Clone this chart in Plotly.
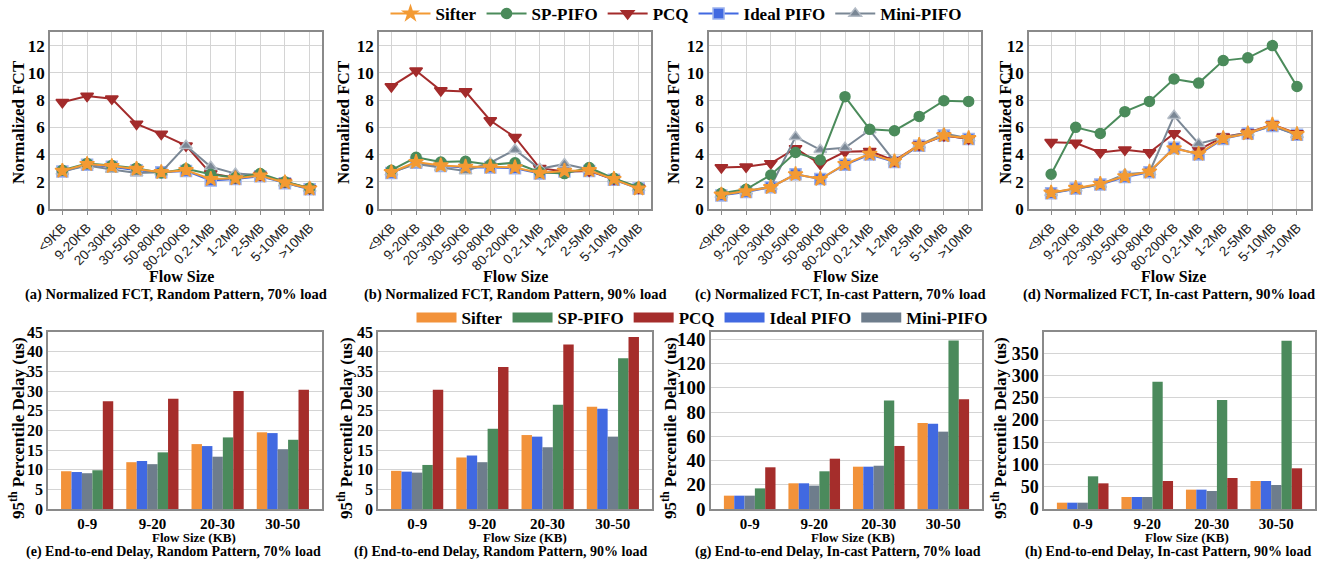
import plotly.graph_objects as go

W, H = 1328, 561

fct_cats = ["<9KB", "9-20KB", "20-30KB", "30-50KB", "50-80KB", "80-200KB",
            "0.2-1MB", "1-2MB", "2-5MB", "5-10MB", ">10MB"]
bar_cats = ["0-9", "9-20", "20-30", "30-50"]

# (a) Normalized FCT, Random, 70%
a_sifter = [2.8, 3.3, 3.15, 2.95, 2.7, 2.85, 2.2, 2.25, 2.45, 1.95, 1.5]
a_sp     = [2.85, 3.35, 3.2, 3.0, 2.65, 2.95, 2.55, 2.3, 2.6, 2.0, 1.55]
a_pcq    = [7.84, 8.3, 8.1, 6.25, 5.5, 4.65, 2.6, 2.3, 2.5, 2.0, 1.5]
a_ideal  = [2.75, 3.25, 3.1, 2.85, 2.7, 2.8, 2.1, 2.2, 2.4, 1.9, 1.45]
a_mini   = [2.75, 3.2, 2.9, 2.65, 2.7, 4.65, 3.1, 2.6, 2.5, 1.9, 1.5]
# (b) Normalized FCT, Random, 90%
b_sifter = [2.7, 3.45, 3.2, 3.1, 3.1, 3.05, 2.65, 2.8, 2.85, 2.2, 1.5]
b_sp     = [2.85, 3.8, 3.45, 3.5, 3.25, 3.4, 2.7, 2.6, 3.05, 2.25, 1.6]
b_pcq    = [9.0, 10.15, 8.7, 8.63, 6.5, 5.27, 3.0, 2.75, 2.8, 2.2, 1.55]
b_ideal  = [2.65, 3.4, 3.15, 3.05, 3.05, 3.0, 2.6, 2.75, 2.8, 2.15, 1.5]
b_mini   = [2.7, 3.3, 3.05, 2.8, 3.4, 4.35, 2.95, 3.3, 2.9, 2.2, 1.55]
# (c) Normalized FCT, In-cast, 70%
c_sifter = [1.05, 1.3, 1.6, 2.55, 2.2, 3.3, 4.05, 3.5, 4.7, 5.4, 5.2]
c_sp     = [1.15, 1.45, 2.5, 4.15, 3.6, 8.25, 5.85, 5.75, 6.8, 7.95, 7.9]
c_pcq    = [3.05, 3.1, 3.35, 4.45, 3.3, 4.2, 4.25, 3.55, 4.7, 5.4, 5.15]
c_ideal  = [1.0, 1.25, 1.6, 2.55, 2.2, 3.25, 4.0, 3.45, 4.65, 5.4, 5.15]
c_mini   = [1.05, 1.3, 1.65, 5.3, 4.35, 4.5, 5.8, 3.5, 4.7, 5.55, 5.2]
# (d) Normalized FCT, In-cast, 90%
d_sifter = [1.2, 1.55, 1.85, 2.4, 2.75, 4.45, 4.05, 5.2, 5.55, 6.2, 5.5]
d_sp     = [2.55, 6.0, 5.55, 7.15, 7.9, 9.55, 9.25, 10.9, 11.1, 12.0, 9.0]
d_pcq    = [4.9, 4.85, 4.15, 4.35, 4.15, 5.55, 4.35, 5.3, 5.6, 6.2, 5.55]
d_ideal  = [1.15, 1.5, 1.8, 2.35, 2.7, 4.5, 4.0, 5.15, 5.55, 6.1, 5.45]
d_mini   = [1.2, 1.5, 1.8, 2.55, 2.7, 6.85, 4.8, 5.25, 5.6, 6.1, 5.45]

# (e) Delay, Random, 70%
e_sifter = [9.6, 11.9, 16.5, 19.5]
e_ideal  = [9.4, 12.2, 16.0, 19.3]
e_mini   = [9.1, 11.4, 13.3, 15.2]
e_sp     = [9.85, 14.4, 18.2, 17.6]
e_pcq    = [27.4, 28.0, 30.0, 30.3]
# (f) Delay, Random, 90%
f_sifter = [9.7, 13.1, 18.8, 26.0]
f_ideal  = [9.5, 13.6, 18.4, 25.5]
f_mini   = [9.25, 11.9, 15.7, 18.4]
f_sp     = [11.2, 20.4, 26.5, 38.3]
f_pcq    = [30.3, 36.1, 41.8, 43.7]
# (g) Delay, In-cast, 70%
g_sifter = [11.0, 21.2, 34.9, 71.0]
g_ideal  = [11.0, 21.2, 34.9, 70.4]
g_mini   = [11.0, 19.3, 35.7, 63.8]
g_sp     = [17.0, 31.1, 89.4, 138.9]
g_pcq    = [34.4, 41.5, 52.0, 90.5]
# (h) Delay, In-cast, 90%
h_sifter = [14.2, 27.0, 43.5, 63.0]
h_ideal  = [14.2, 27.0, 43.5, 63.0]
h_mini   = [14.2, 27.0, 40.5, 54.0]
h_sp     = [73.5, 286.0, 245.0, 378.5]
h_pcq    = [57.7, 63.0, 69.7, 91.5]

names = ["Sifter", "SP-PIFO", "PCQ", "Ideal PIFO", "Mini-PIFO"]
line_col = {"Sifter": "#F39A33", "SP-PIFO": "#4B8B5B", "PCQ": "#A32B2B",
            "Ideal PIFO": "#4169E1", "Mini-PIFO": "#7A8795"}
bar_col = {"Sifter": "#F2923A", "SP-PIFO": "#4B8A5C", "PCQ": "#A52D2B",
           "Ideal PIFO": "#4169E1", "Mini-PIFO": "#6E7D8C"}
sym = {"Sifter": "star", "SP-PIFO": "circle", "PCQ": "triangle-down",
       "Ideal PIFO": "square", "Mini-PIFO": "triangle-up"}
msize = {"Sifter": 11, "SP-PIFO": 10, "PCQ": 11, "Ideal PIFO": 11, "Mini-PIFO": 11}
mline = {"Sifter": "#F39A33", "SP-PIFO": "#4B8B5B", "PCQ": "#A32B2B",
         "Ideal PIFO": "#9DB3EE", "Mini-PIFO": "#B4BCC6"}
rank = {n: i for i, n in enumerate(names)}

SERIF = "Liberation Serif"
SANS = "Liberation Sans"

def px(x):
    return x / W

def py(y):
    return 1 - y / H

fct_panels = [
    ({"Sifter": a_sifter, "SP-PIFO": a_sp, "PCQ": a_pcq, "Ideal PIFO": a_ideal, "Mini-PIFO": a_mini},
     (50, 322), (-0.5, 10.5)),
    ({"Sifter": b_sifter, "SP-PIFO": b_sp, "PCQ": b_pcq, "Ideal PIFO": b_ideal, "Mini-PIFO": b_mini},
     (379, 651), (-0.5, 10.5)),
    ({"Sifter": c_sifter, "SP-PIFO": c_sp, "PCQ": c_pcq, "Ideal PIFO": c_ideal, "Mini-PIFO": c_mini},
     (709, 981), (-0.5, 10.5)),
    ({"Sifter": d_sifter, "SP-PIFO": d_sp, "PCQ": d_pcq, "Ideal PIFO": d_ideal, "Mini-PIFO": d_mini},
     (1029, 1311), (-0.9, 10.57)),
]
bar_panels = [
    ({"Sifter": e_sifter, "SP-PIFO": e_sp, "PCQ": e_pcq, "Ideal PIFO": e_ideal, "Mini-PIFO": e_mini},
     (48, 322), 45, 5, 16),
    ({"Sifter": f_sifter, "SP-PIFO": f_sp, "PCQ": f_pcq, "Ideal PIFO": f_ideal, "Mini-PIFO": f_mini},
     (378, 652), 45, 5, 16),
    ({"Sifter": g_sifter, "SP-PIFO": g_sp, "PCQ": g_pcq, "Ideal PIFO": g_ideal, "Mini-PIFO": g_mini},
     (711, 982), 146, 20, 19),
    ({"Sifter": h_sifter, "SP-PIFO": h_sp, "PCQ": h_pcq, "Ideal PIFO": h_ideal, "Mini-PIFO": h_mini},
     (1044, 1315), 398, 50, 18),
]

fig = go.Figure()
layout = {}
draw_order = ["Ideal PIFO", "PCQ", "Mini-PIFO", "SP-PIFO", "Sifter"]
bar_order = ["Sifter", "Ideal PIFO", "Mini-PIFO", "SP-PIFO", "PCQ"]

for i, (data, (x0, x1), xr) in enumerate(fct_panels):
    k = i + 1
    xa = "x" if k == 1 else f"x{k}"
    ya = "y" if k == 1 else f"y{k}"
    for n in draw_order:
        fig.add_trace(go.Scatter(
            x=fct_cats, y=data[n], mode="lines+markers", name=n,
            line=dict(color=line_col[n], width=2),
            marker=dict(symbol=sym[n], size=msize[n], color=line_col[n],
                        line=dict(color=mline[n], width=1.5)),
            xaxis=xa, yaxis=ya, showlegend=(k == 1), legendrank=rank[n],
            legend="legend"))
    layout["xaxis" if k == 1 else f"xaxis{k}"] = dict(
        domain=[px(x0), px(x1)], anchor=ya, type="category",
        categoryorder="array", categoryarray=fct_cats, range=list(xr),
        tickangle=-45, tickfont=dict(family=SANS, size=13.5, color="#222"),
        showgrid=True, gridcolor="#D4D4D4", gridwidth=1,
        showline=True, linecolor="#8A8A8A", linewidth=1.5, mirror=True,
        ticks="outside", ticklen=4, tickcolor="#8A8A8A", tickwidth=1)
    layout["yaxis" if k == 1 else f"yaxis{k}"] = dict(
        domain=[py(209), py(32)], anchor=xa, range=[0, 13],
        tickvals=[0, 2, 4, 6, 8, 10, 12],
        tickfont=dict(family=SERIF, size=17, color="black", weight="bold"),
        showgrid=True, gridcolor="#D4D4D4", gridwidth=1, zeroline=False,
        showline=True, linecolor="#8A8A8A", linewidth=1.5, mirror=True,
        ticks="", ticklen=0)

for i, (data, (x0, x1), ymax, dt, tfs) in enumerate(bar_panels):
    k = i + 5
    xa, ya = f"x{k}", f"y{k}"
    for n in bar_order:
        fig.add_trace(go.Bar(
            x=bar_cats, y=data[n], name=n, marker=dict(color=bar_col[n], line=dict(width=0)),
            xaxis=xa, yaxis=ya, showlegend=False, offsetgroup=n))
    layout[f"xaxis{k}"] = dict(
        domain=[px(x0), px(x1)], anchor=ya, type="category",
        categoryorder="array", categoryarray=bar_cats, range=[-0.6, 3.6],
        tickfont=dict(family=SERIF, size=15, color="black", weight="bold"),
        showgrid=False, showline=True, linecolor="#8A8A8A", linewidth=1.5,
        mirror=True, ticks="", ticklen=0)
    layout[f"yaxis{k}"] = dict(
        domain=[py(509), py(332)], anchor=xa, range=[0, ymax], dtick=dt,
        tickfont=dict(family=SERIF, size=tfs, color="black", weight="bold"),
        showgrid=True, gridcolor="#D4D4D4", gridwidth=1, zeroline=False,
        showline=True, linecolor="#8A8A8A", linewidth=1.5, mirror=True,
        ticks="", ticklen=0)

# bar legend entries
for n in names:
    fig.add_trace(go.Scatter(x=[None], y=[None], mode="lines", name=n,
                             line=dict(color=bar_col[n], width=10),
                             xaxis="x5", yaxis="y5", showlegend=True,
                             legend="legend2", legendrank=rank[n]))

ann = []
def A(text, x, y, size, angle=0):
    ann.append(dict(text=text, x=px(x), y=py(y), xref="paper", yref="paper",
                    showarrow=False, textangle=angle, xanchor="center", yanchor="middle",
                    borderpad=0,
                    font=dict(family=SERIF, size=size, color="black", weight="bold")))

top_caps = ["(a) Normalized FCT, Random Pattern, 70% load",
            "(b) Normalized FCT, Random Pattern, 90% load",
            "(c) Normalized FCT, In-cast Pattern, 70% load",
            "(d) Normalized FCT, In-cast Pattern, 90% load"]
bot_caps = ["(e) End-to-end Delay, Random Pattern, 70% load",
            "(f) End-to-end Delay, Random Pattern, 90% load",
            "(g) End-to-end Delay, In-cast Pattern, 70% load",
            "(h) End-to-end Delay, In-cast Pattern, 90% load"]
top_cap_x = [176, 515, 840, 1169]
top_fs_x = [181, 515, 845, 1173]
top_yt_x = [18, 343, 673, 1005]
bot_cap_x = [173, 500, 838, 1168]
bot_fs_x = [194, 525, 853, 1187]
bot_yt_x = [17, 345, 669, 999]

for j in range(4):
    A(top_caps[j], top_cap_x[j], 294, 14.5)
    A("Flow Size", top_fs_x[j], 276, 16)
    A("Normalized FCT", top_yt_x[j], 122, 17, -90)
    A(bot_caps[j], bot_cap_x[j], 552, 14)
    A("Flow Size (KB)", bot_fs_x[j], 537, 13)
    A("95<sup>th</sup> Percentile Delay (us)", bot_yt_x[j], 428, 17, -90)

layout.update(dict(
    width=W, height=H, autosize=False,
    margin=dict(l=0, r=0, t=0, b=0, autoexpand=False),
    paper_bgcolor="white", plot_bgcolor="white",
    barmode="group", bargap=0.2, bargroupgap=0,
    annotations=ann,
    legend=dict(orientation="h", x=px(676), y=py(14), xanchor="center", yanchor="middle",
                font=dict(family=SERIF, size=17, color="black", weight="bold"),
                bgcolor="rgba(0,0,0,0)", itemwidth=40, tracegroupgap=0,
                traceorder="normal"),
    legend2=dict(orientation="h", x=px(702), y=py(318), xanchor="center", yanchor="middle",
                 font=dict(family=SERIF, size=17, color="black", weight="bold"),
                 bgcolor="rgba(0,0,0,0)", itemwidth=40, traceorder="normal"),
))
fig.update_layout(**layout)
fig.write_html("out.html")
